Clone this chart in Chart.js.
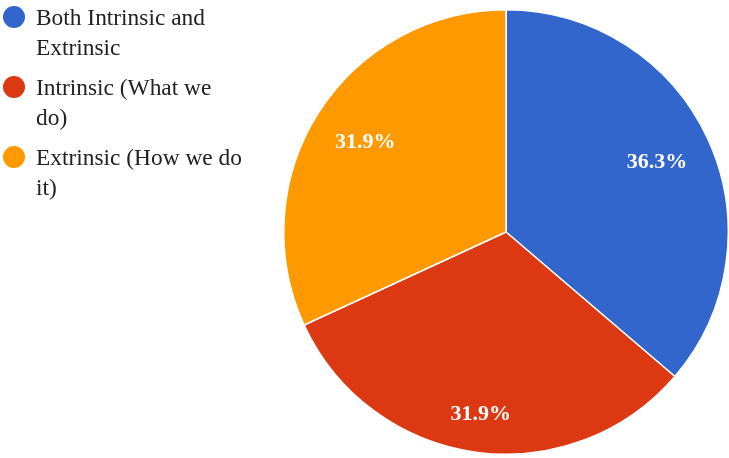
<!DOCTYPE html>
<html>
<head>
<meta charset="utf-8">
<script src="https://cdn.jsdelivr.net/npm/chart.js@4.4.1/dist/chart.umd.min.js"></script>
<style>
    html, body { margin: 0; padding: 0; background: #fff; }
    #wrap { position: relative; width: 729px; height: 458px; }
    #grafico { position: absolute; left: 0; top: 0; }
    #legenda {
        position: absolute; left: 0; top: 2px; width: 245px;
        font-family: "Liberation Serif", "Times New Roman", serif;
        font-size: 23.4px; line-height: 30px; color: #222;
    }
    .item { position: relative; padding-left: 36px; width: 209px; margin-bottom: 10px; }
    .bola { position: absolute; left: 3px; top: 4px; width: 22px; height: 22px; border-radius: 50%; }
</style>
</head>
<body>
<div id="wrap">
    <canvas id="grafico" width="729" height="458"></canvas>
    <div id="legenda"></div>
</div>
<script>
// categorias e valores (percentuais)
var categorias = ['Both Intrinsic and Extrinsic', 'Intrinsic (What we do)', 'Extrinsic (How we do it)'];
var valores = [36.3, 31.9, 31.9];
var cores = ['#3366cc', '#dc3912', '#ff9900'];

// legenda em HTML, à esquerda
var legenda = document.getElementById('legenda');
categorias.forEach(function (nome, i) {
    var item = document.createElement('div');
    item.className = 'item';
    var bola = document.createElement('span');
    bola.className = 'bola';
    bola.style.background = cores[i];
    item.appendChild(bola);
    item.appendChild(document.createTextNode(nome));
    legenda.appendChild(item);
});

// rótulos de percentual dentro das fatias
var rotulosFatias = {
    id: 'rotulosFatias',
    afterDatasetsDraw: function (chart) {
        var ctx = chart.ctx;
        var meta = chart.getDatasetMeta(0);
        ctx.save();
        ctx.font = 'bold 22px "Liberation Serif", serif';
        ctx.fillStyle = '#ffffff';
        ctx.textAlign = 'center';
        ctx.textBaseline = 'middle';
        meta.data.forEach(function (arc, i) {
            var texto = valores[i].toFixed(1) + '%';
            var meioW = ctx.measureText(texto).width / 2;
            var meioH = 9.5;
            var ang = (arc.startAngle + arc.endAngle) / 2;
            var c = Math.cos(ang), s = Math.sin(ang);
            // borda externa do texto a ~89% do raio
            var r = arc.outerRadius * 0.89 - (meioW * Math.abs(c) + meioH * Math.abs(s));
            ctx.fillText(texto, arc.x + c * r, arc.y + s * r);
        });
        ctx.restore();
    }
};

var ctxGrafico = document.getElementById('grafico').getContext('2d');
new Chart(ctxGrafico, {
    type: 'pie',
    data: {
        labels: categorias,
        datasets: [{
            data: valores,
            backgroundColor: cores,
            borderColor: '#ffffff',
            borderWidth: 1.5
        }]
    },
    options: {
        responsive: false,
        animation: false,
        layout: { padding: { left: 283, right: 0, top: 9, bottom: 3 } },
        plugins: {
            legend: { display: false },
            tooltip: { enabled: false }
        }
    },
    plugins: [rotulosFatias]
});
</script>
</body>
</html>
